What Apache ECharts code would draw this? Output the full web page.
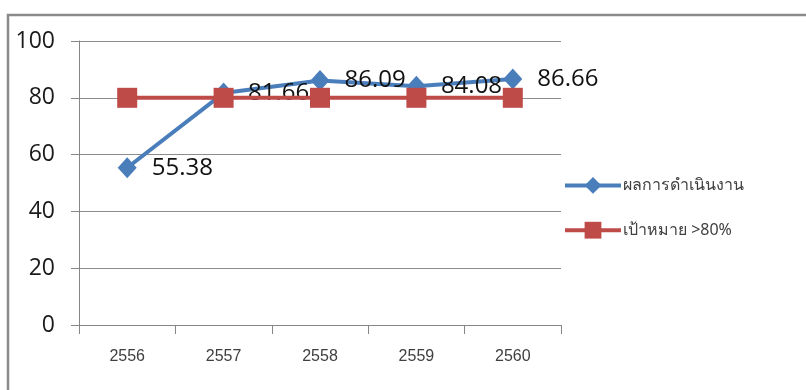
<!DOCTYPE html>
<html>
<head>
<meta charset="utf-8">
<script src="https://cdn.jsdelivr.net/npm/echarts@6/dist/echarts.min.js"></script>
<style>
  html, body { margin: 0; padding: 0; background: #ffffff; }
  #chart { width: 806px; height: 390px; }
</style>
</head>
<body>
<div id="chart"></div>
<script>
// Years (Buddhist era)
const years = ['2556', '2557', '2558', '2559', '2560'];
// Actual performance (%)
const performance = [55.38, 81.66, 86.09, 84.08, 86.66];
// Target (%)
const target = [80, 80, 80, 80, 80];
const seriesNames = ['ผลการดำเนินงาน', 'เป้าหมาย >80%'];

const chart = echarts.init(document.getElementById('chart'), null, { renderer: 'canvas' });

chart.setOption({
  animation: false,
  backgroundColor: '#ffffff',
  graphic: [{
    type: 'polyline',
    shape: { points: [[8, 390], [8, 15], [806, 15]] },
    style: { stroke: '#8a8a8a', lineWidth: 2.5, fill: null }
  }],
  grid: { left: 79, right: 245, top: 41, bottom: 65, containLabel: false },
  legend: {
    orient: 'vertical',
    left: 558,
    top: 172,
    itemWidth: 56,
    itemHeight: 21,
    itemGap: 28,
    lineStyle: { width: 4 },
    textStyle: { fontFamily: 'Noto Sans, sans-serif', fontSize: 16, color: '#404040', padding: [0, 0, 0, -3] },
    data: seriesNames
  },
  xAxis: {
    type: 'category',
    data: years,
    boundaryGap: true,
    axisLine: { lineStyle: { color: '#868686', width: 1 } },
    axisTick: { show: true, length: 9, lineStyle: { color: '#868686' } },
    axisLabel: { margin: 24, fontFamily: 'Liberation Sans, Arial, sans-serif', fontSize: 16, color: '#404040' },
    splitLine: { show: false }
  },
  yAxis: {
    type: 'value',
    min: 0,
    max: 100,
    interval: 20,
    axisLine: { show: true, lineStyle: { color: '#868686', width: 1 } },
    axisTick: { show: true, length: 8, lineStyle: { color: '#868686' } },
    axisLabel: { margin: 24, fontFamily: 'Open Sans, sans-serif', fontSize: 23, color: '#1a1a1a' },
    splitLine: { show: true, lineStyle: { color: '#8c8c8c', width: 1 } }
  },
  series: [
    {
      name: seriesNames[0],
      type: 'line',
      data: performance,
      symbol: 'diamond',
      symbolSize: [19, 21],
      itemStyle: { color: '#4a7ebb' },
      lineStyle: { color: '#4a7ebb', width: 4 },
      z: 2,
      label: {
        show: true,
        position: 'right',
        distance: 15,
        fontFamily: 'Open Sans, sans-serif',
        fontSize: 24,
        color: '#111111'
      }
    },
    {
      name: seriesNames[1],
      type: 'line',
      data: target,
      symbol: 'rect',
      symbolSize: 20,
      itemStyle: { color: '#be4b48' },
      lineStyle: { color: '#be4b48', width: 4 },
      z: 3
    }
  ]
});
</script>
</body>
</html>
